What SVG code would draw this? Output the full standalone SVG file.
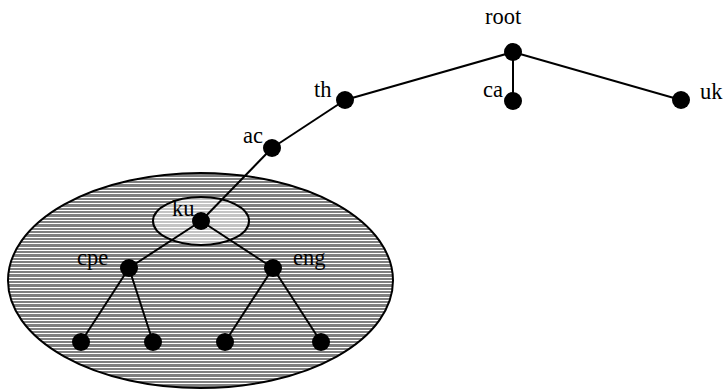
<svg xmlns="http://www.w3.org/2000/svg" width="726" height="390" viewBox="0 0 726 390">
  <defs>
    <!-- horizontal white hatching on grey (three 1px lines every 10px) -->
    <pattern id="hatchDark" patternUnits="userSpaceOnUse" x="0" y="0" width="10" height="10">
      <rect width="10" height="10" fill="#808080"/>
      <rect y="0" width="10" height="1" fill="#ffffff"/>
      <rect y="3" width="10" height="1" fill="#ffffff"/>
      <rect y="7" width="10" height="1" fill="#ffffff"/>
    </pattern>
    <pattern id="hatchLight" patternUnits="userSpaceOnUse" x="0" y="0" width="10" height="10">
      <rect width="10" height="10" fill="#c4c4c4"/>
      <rect y="0" width="10" height="1" fill="#ffffff"/>
      <rect y="3" width="10" height="1" fill="#ffffff"/>
      <rect y="7" width="10" height="1" fill="#ffffff"/>
    </pattern>
  </defs>
  <style>
    .region { stroke: #000; stroke-width: 2; }
    .edge { stroke: #000; stroke-width: 2; fill: none; }
    .dot { fill: #000; }
    .lbl { font-family: "Liberation Serif", "Times New Roman", serif; font-size: 22.5px; fill: #000; }
  </style>

  <!-- subtree regions -->
  <g id="regions">
    <ellipse id="region-ku-subtree" class="region" cx="200.5" cy="280.5" rx="192.5" ry="107.5" fill="url(#hatchDark)"/>
    <ellipse id="region-ku" class="region" cx="201" cy="221" rx="48" ry="24" fill="url(#hatchLight)"/>
  </g>

  <!-- tree edges -->
  <g id="connectors">
    <line class="edge" x1="513" y1="52" x2="345" y2="100"/>
    <line class="edge" x1="513" y1="52" x2="513" y2="101"/>
    <line class="edge" x1="513" y1="52" x2="681" y2="100"/>
    <line class="edge" x1="345" y1="100" x2="272" y2="148"/>
    <line class="edge" x1="272" y1="148" x2="201" y2="221"/>
    <line class="edge" x1="201" y1="221" x2="129" y2="268"/>
    <line class="edge" x1="201" y1="221" x2="273" y2="268"/>
    <line class="edge" x1="129" y1="268" x2="81" y2="342"/>
    <line class="edge" x1="129" y1="268" x2="153" y2="342"/>
    <line class="edge" x1="273" y1="268" x2="225" y2="342"/>
    <line class="edge" x1="273" y1="268" x2="321" y2="342"/>
  </g>

  <!-- nodes -->
  <g id="node-root"><circle class="dot" cx="513" cy="52" r="9"/><text class="lbl" x="485" y="24">root</text></g>
  <g id="node-th"><circle class="dot" cx="345" cy="100" r="9"/><text class="lbl" x="314" y="97">th</text></g>
  <g id="node-ca"><circle class="dot" cx="513" cy="101" r="9"/><text class="lbl" x="483" y="97">ca</text></g>
  <g id="node-uk"><circle class="dot" cx="681" cy="100" r="9"/><text class="lbl" x="700" y="99">uk</text></g>
  <g id="node-ac"><circle class="dot" cx="272" cy="148" r="9"/><text class="lbl" x="243" y="143">ac</text></g>
  <g id="node-ku"><circle class="dot" cx="201" cy="221" r="9"/><text class="lbl" x="172" y="216">ku</text></g>
  <g id="node-cpe"><circle class="dot" cx="129" cy="268" r="9"/><text class="lbl" x="77" y="265">cpe</text></g>
  <g id="node-eng"><circle class="dot" cx="273" cy="268" r="9"/><text class="lbl" x="293" y="265">eng</text></g>
  <g id="node-leaf1"><circle class="dot" cx="81" cy="342" r="9"/></g>
  <g id="node-leaf2"><circle class="dot" cx="153" cy="342" r="9"/></g>
  <g id="node-leaf3"><circle class="dot" cx="225" cy="342" r="9"/></g>
  <g id="node-leaf4"><circle class="dot" cx="321" cy="342" r="9"/></g>
</svg>
